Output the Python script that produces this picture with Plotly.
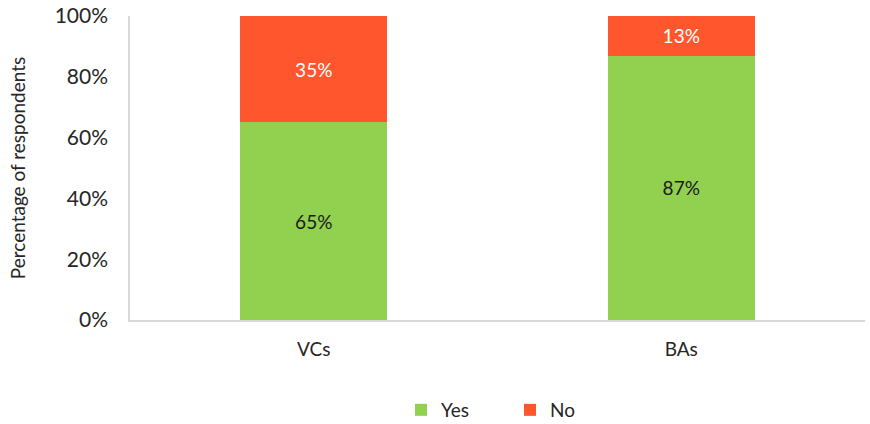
import plotly.graph_objects as go

categories = ["VCs", "BAs"]
yes_values = [65, 87]
no_values = [35, 13]
tick_vals = [0, 20, 40, 60, 80, 100]
tick_text = ["0%", "20%", "40%", "60%", "80%", "100%"]

FONT = "Lato"

fig = go.Figure()
fig.add_trace(go.Bar(
    name="Yes", x=categories, y=yes_values,
    marker=dict(color="#92D050", line=dict(width=0)),
    text=[f"{v}%" for v in yes_values], textposition="inside",
    insidetextanchor="middle",
    textfont=dict(color="#1a1a1a", size=19, family=FONT),
    width=0.4,
))
fig.add_trace(go.Bar(
    name="No", x=categories, y=no_values,
    marker=dict(color="#FF562E", line=dict(width=0)),
    text=[f"{v}%" for v in no_values], textposition="inside",
    insidetextanchor="middle",
    textfont=dict(color="white", size=19, family=FONT),
    width=0.4,
))

fig.update_layout(
    barmode="stack",
    width=870, height=424,
    margin=dict(l=130, r=5, t=16, b=104, autoexpand=False),
    paper_bgcolor="white", plot_bgcolor="white",
    font=dict(family=FONT, size=18, color="#262626"),
    legend=dict(orientation="h", x=0.517, xanchor="center", y=-0.296, yanchor="middle",
                font=dict(size=19, family=FONT), traceorder="normal",
                itemwidth=30, entrywidth=64, entrywidthmode="pixels"),
    showlegend=True,
    hovermode=False,
)
fig.update_yaxes(
    range=[0, 100], tickvals=tick_vals, ticktext=tick_text,
    showgrid=False, showline=True, linecolor="#D9D9D9", linewidth=1.5,
    ticks="", tickfont=dict(size=21, family=FONT), ticklabelstandoff=16,
    title=dict(text="Percentage of respondents", font=dict(size=19, family=FONT), standoff=24),
    zeroline=False, automargin=False,
)
fig.update_xaxes(
    showline=True, linecolor="#D9D9D9", linewidth=1.5, ticks="",
    tickfont=dict(size=19, family=FONT), ticklabelstandoff=11, automargin=False,
)

fig.write_html("out.html", config={"displayModeBar": False},
               post_script="document.body.style.margin='0';")
